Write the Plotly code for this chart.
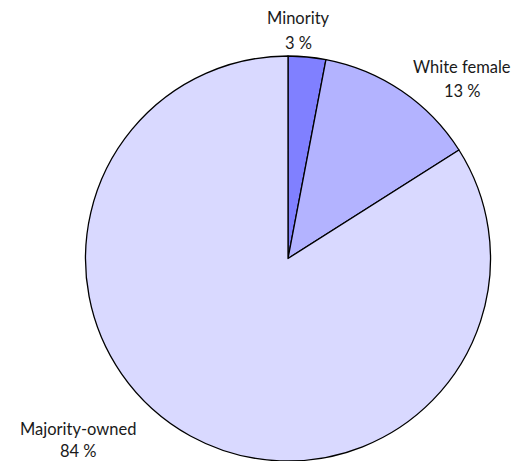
import plotly.graph_objects as go

# Share of firms by ownership group
groups = ["Minority", "White female", "Majority-owned"]
shares = [3, 13, 84]
colors = ["#8080ff", "#b3b3ff", "#d9d9ff"]

W, H = 521, 461

fig = go.Figure(
    go.Pie(
        labels=groups,
        values=shares,
        sort=False,
        direction="clockwise",
        rotation=0,
        textinfo="none",
        hoverinfo="label+percent",
        marker=dict(colors=colors, line=dict(color="#000000", width=1.3)),
        domain=dict(x=[84 / W, 492 / W], y=[0, 405 / H]),
        showlegend=False,
    )
)

# Outside labels: group name with its percentage on the line below
label_pos = {
    "Minority": (298, 18, 43),
    "White female": (462, 67, 91),
    "Majority-owned": (78, 429, 451),
}
font = dict(family="Lato, Liberation Sans, sans-serif", size=16.5, color="#1a1a1a")
for name, val in zip(groups, shares):
    px, py_name, py_val = label_pos[name]
    for txt, py in ((name, py_name), (f"{val} %", py_val)):
        fig.add_annotation(
            x=px / W,
            y=1 - py / H,
            xref="paper",
            yref="paper",
            text=txt,
            showarrow=False,
            xanchor="center",
            yanchor="middle",
            font=font,
        )

fig.update_layout(
    width=W,
    height=H,
    margin=dict(l=0, r=0, t=0, b=0),
    paper_bgcolor="white",
    plot_bgcolor="white",
)

fig.write_html("out.html")
